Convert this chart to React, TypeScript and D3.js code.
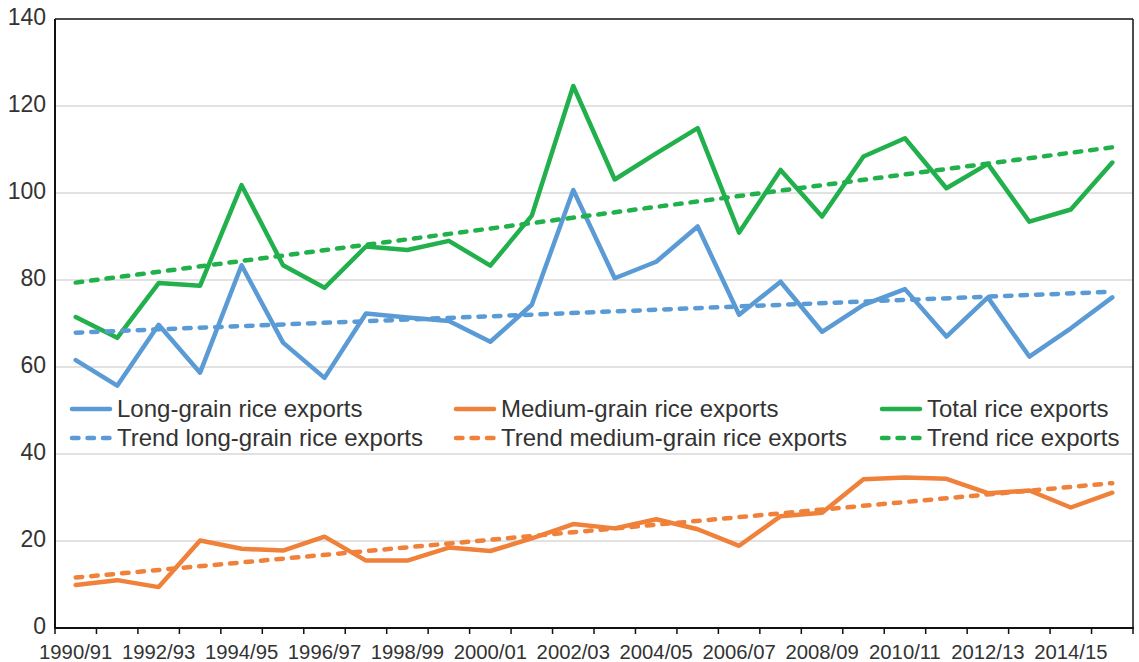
import React from "react";
import * as d3 from "d3";

const categories = [
  "1990/91","1991/92","1992/93","1993/94","1994/95","1995/96","1996/97","1997/98",
  "1998/99","1999/00","2000/01","2001/02","2002/03","2003/04","2004/05","2005/06",
  "2006/07","2007/08","2008/09","2009/10","2010/11","2011/12","2012/13","2013/14",
  "2014/15","2015/16",
];

const longGrain = [
  61.6, 55.7, 69.7, 58.7, 83.4, 65.6, 57.5, 72.3, 71.4, 70.6, 65.8, 74.3, 100.7,
  80.4, 84.2, 92.3, 72.0, 79.6, 68.1, 74.3, 77.9, 67.0, 76.0, 62.4, 68.9, 76.0,
];

const mediumGrain = [
  9.9, 11.0, 9.4, 20.1, 18.2, 17.8, 21.0, 15.5, 15.5, 18.5, 17.7, 20.6, 23.9,
  22.9, 25.0, 22.7, 18.9, 25.7, 26.5, 34.2, 34.6, 34.3, 31.0, 31.6, 27.7, 31.1,
];

const total = [
  71.5, 66.7, 79.3, 78.7, 101.8, 83.4, 78.2, 87.7, 86.9, 89.0, 83.3, 94.8, 124.6,
  103.1, 109.1, 114.9, 90.9, 105.3, 94.6, 108.4, 112.6, 101.1, 106.7, 93.4, 96.2, 107.0,
];

// Trend lines: values at first and last category
const trendLongGrain = [67.9, 77.3];
const trendMediumGrain = [11.6, 33.3];
const trendTotal = [79.4, 110.5];

const yTicks = [0, 20, 40, 60, 80, 100, 120, 140];

const seriesNames = [
  "Long-grain rice exports",
  "Medium-grain rice exports",
  "Total rice exports",
  "Trend long-grain rice exports",
  "Trend medium-grain rice exports",
  "Trend rice exports",
];

const BLUE = "#5b9bd5";
const ORANGE = "#f0813a";
const GREEN = "#21b04b";
const DASH = "6.5 9";

export default function App() {
  const W = 1139, H = 662;
  const left = 55, right = 1133, top = 19, bottom = 628;
  const font = "'Liberation Sans', Arial, Helvetica, sans-serif";

  const x = d3.scaleBand<string>().domain(categories).range([left, right]).padding(0);
  const y = d3.scaleLinear().domain([0, 140]).range([bottom, top]);
  const cx = (i: number) => (x(categories[i]) as number) + x.bandwidth() / 2;

  const line = d3
    .line<number>()
    .x((_, i) => cx(i))
    .y((d) => y(d));

  const trendPath = (t: number[]) =>
    d3
      .line<[number, number]>()
      .x((d) => cx(d[0]))
      .y((d) => y(d[1]))([
      [0, t[0]],
      [categories.length - 1, t[1]],
    ]) as string;

  const tickXs = categories.map((c) => x(c) as number).concat([right]);

  const solid = [
    { data: longGrain, color: BLUE },
    { data: mediumGrain, color: ORANGE },
    { data: total, color: GREEN },
  ];
  const trends = [
    { data: trendLongGrain, color: BLUE },
    { data: trendMediumGrain, color: ORANGE },
    { data: trendTotal, color: GREEN },
  ];

  const legendCols = [70, 454, 880];
  const legendRows = [417, 446];
  const legendItems = [
    { name: seriesNames[0], color: BLUE, dash: false, col: 0, row: 0 },
    { name: seriesNames[1], color: ORANGE, dash: false, col: 1, row: 0 },
    { name: seriesNames[2], color: GREEN, dash: false, col: 2, row: 0 },
    { name: seriesNames[3], color: BLUE, dash: true, col: 0, row: 1 },
    { name: seriesNames[4], color: ORANGE, dash: true, col: 1, row: 1 },
    { name: seriesNames[5], color: GREEN, dash: true, col: 2, row: 1 },
  ];

  return (
    <svg
      width={W}
      height={H}
      style={{ position: "absolute", left: 0, top: 0, display: "block", background: "#fff" }}
      fontFamily={font}
    >
      <rect x={0} y={0} width={W} height={H} fill="#fff" />
      {yTicks.slice(1, -1).map((t) => (
        <line key={t} x1={left} x2={right} y1={y(t)} y2={y(t)} stroke="#d9d9d9" strokeWidth={1.5} />
      ))}
      <line x1={left} x2={right} y1={top} y2={top} stroke="#111" strokeWidth={1.5} />
      <line x1={right} x2={right} y1={top} y2={bottom} stroke="#111" strokeWidth={1.5} />
      <line x1={left} x2={left} y1={top} y2={bottom} stroke="#111" strokeWidth={2} />
      <line x1={left - 1} x2={right + 1} y1={bottom} y2={bottom} stroke="#111" strokeWidth={2} />
      {tickXs.map((tx, i) => (
        <line key={i} x1={tx} x2={tx} y1={bottom} y2={bottom + 6} stroke="#111" strokeWidth={1.5} />
      ))}
      {yTicks.map((t) => (
        <text
          key={t}
          x={46}
          y={y(t) - 2.5}
          textAnchor="end"
          dominantBaseline="central"
          fontSize={23}
          fill="#333"
        >
          {t}
        </text>
      ))}
      {categories.map((c, i) =>
        i % 2 === 0 ? (
          <text key={c} x={cx(i)} y={659} textAnchor="middle" fontSize={20.3} fill="#333">
            {c}
          </text>
        ) : null
      )}
      {solid.map((s, i) => (
        <path
          key={i}
          d={line(s.data) as string}
          fill="none"
          stroke={s.color}
          strokeWidth={4.5}
          strokeLinejoin="round"
          strokeLinecap="round"
        />
      ))}
      {trends.map((s, i) => (
        <path
          key={i}
          d={trendPath(s.data)}
          fill="none"
          stroke={s.color}
          strokeWidth={4.5}
          strokeDasharray={DASH}
          strokeLinecap="round"
        />
      ))}
      {legendItems.map((it, i) => {
        const lx = legendCols[it.col];
        const ly = legendRows[it.row];
        return (
          <g key={i}>
            <line
              x1={lx + 2}
              x2={lx + 40}
              y1={ly - 8}
              y2={ly - 8}
              stroke={it.color}
              strokeWidth={4.5}
              strokeLinecap="round"
              strokeDasharray={it.dash ? DASH : undefined}
            />
            <text x={lx + 47} y={ly} fontSize={24} fill="#333">
              {it.name}
            </text>
          </g>
        );
      })}
    </svg>
  );
}
